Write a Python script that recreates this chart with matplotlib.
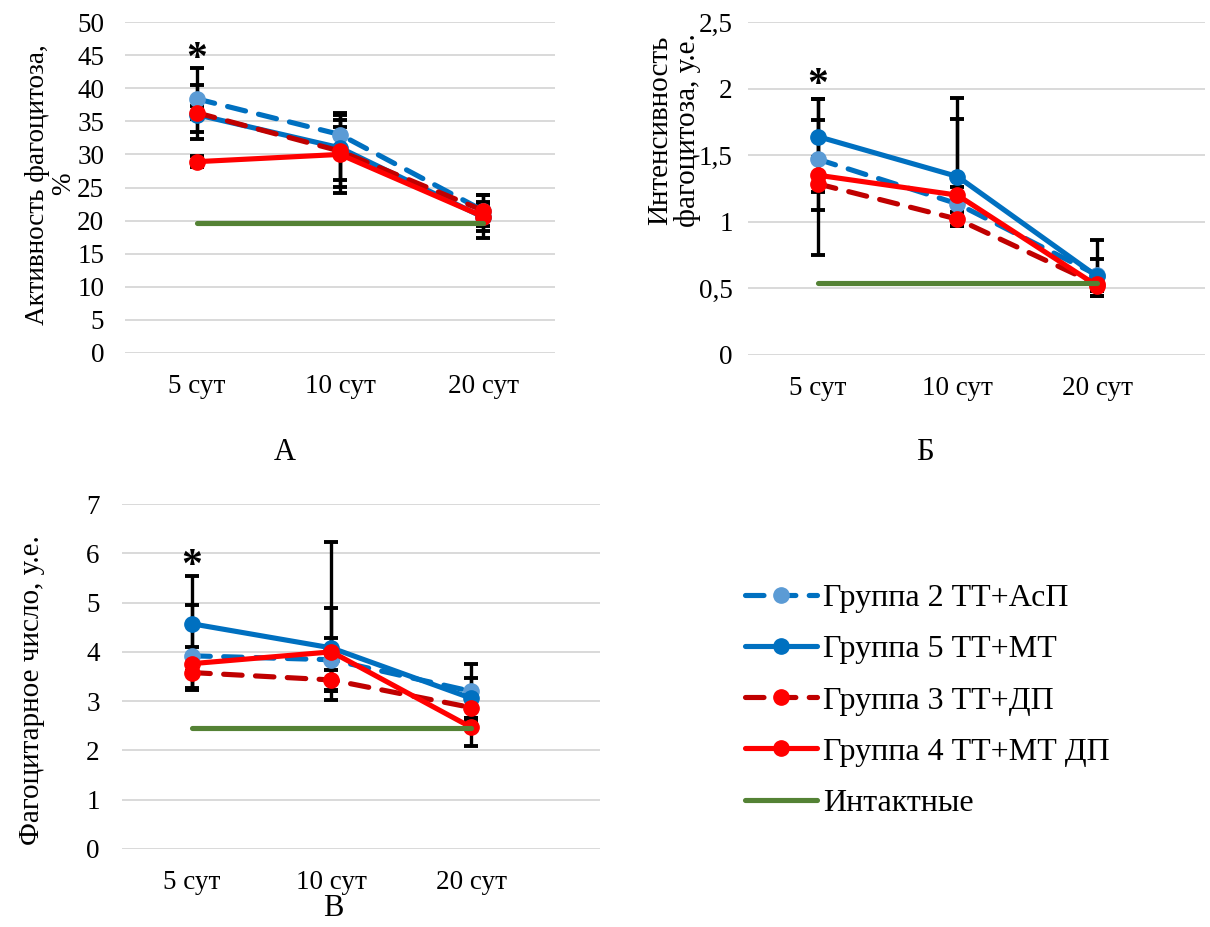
import matplotlib
matplotlib.use("Agg")
import matplotlib.pyplot as plt
from matplotlib.ticker import FuncFormatter

plt.rcParams['font.family'] = ['Liberation Serif', 'DejaVu Serif']

# ---- data -------------------------------------------------------------
days = ["5 сут", "10 сут", "20 сут"]
series_names = ["Группа 2 ТТ+АсП", "Группа 5 ТТ+МТ", "Группа 3 ТТ+ДП",
                "Группа 4 ТТ+МТ ДП", "Интактные"]

# Активность фагоцитоза, %
a_g2 = [38.4, 33.0, 21.5]
a_g5 = [36.0, 31.0, 20.5]
a_g3 = [36.3, 30.5, 21.5]
a_g4 = [28.9, 30.0, 20.6]
a_intact = 19.6
a_g2_hi, a_g2_lo = [4.6, 3.2, 2.3], [5.0, 3.2, 2.3]
a_g5_hi, a_g5_lo = [4.5, 4.2, 2.0], [3.6, 4.9, 2.0]
a_g3_hi, a_g3_lo = [1.0, 3.7, 1.3], [1.0, 5.4, 1.3]
a_g4_hi, a_g4_lo = [0.8, 6.0, 3.2], [0.8, 5.9, 3.3]

# Интенсивность фагоцитоза, у.е.
b_g2 = [1.47, 1.135, 0.60]
b_g5 = [1.64, 1.34, 0.59]
b_g3 = [1.285, 1.02, 0.53]
b_g4 = [1.35, 1.20, 0.52]
b_intact = 0.54
b_g2_hi, b_g2_lo = [0.295, 0.13, 0.12], [0.25, 0.13, 0.12]
b_g5_hi, b_g5_lo = [0.28, 0.59, 0.27], [0.28, 0.37, 0.15]
b_g3_hi, b_g3_lo = [0.20, 0.05, 0.05], [0.20, 0.05, 0.05]
b_g4_hi, b_g4_lo = [0.57, 0.57, 0.08], [0.60, 0.23, 0.08]

# Фагоцитарное число, у.е.
c_g2 = [3.92, 3.84, 3.20]
c_g5 = [4.57, 4.08, 3.06]
c_g3 = [3.58, 3.43, 2.87]
c_g4 = [3.76, 4.00, 2.47]
c_intact = 2.45
c_g2_hi, c_g2_lo = [1.04, 1.05, 0.55], [0.68, 0.64, 0.55]
c_g5_hi, c_g5_lo = [0.96, 2.14, 0.41], [0.96, 1.05, 0.41]
c_g3_hi, c_g3_lo = [0.35, 0.20, 0.30], [0.35, 0.20, 0.30]
c_g4_hi, c_g4_lo = [0.34, 0.28, 0.39], [0.50, 0.80, 0.39]

# ---- styles -----------------------------------------------------------
BLUE = "#0070C0"
LIGHT_BLUE = "#5B9BD5"
DARK_RED = "#C00000"
RED = "#FF0000"
GREEN = "#548235"
GRID = "#D9D9D9"
DASH = (0, (3.6, 2.6))

styles = [
    dict(color=BLUE, ls=DASH, mfc=LIGHT_BLUE, mec=LIGHT_BLUE),
    dict(color=BLUE, ls="-", mfc=BLUE, mec=BLUE),
    dict(color=DARK_RED, ls=DASH, mfc=RED, mec=RED),
    dict(color=RED, ls="-", mfc=RED, mec=RED),
]
LW = 3.7
MS = 11
TICK_FS = 19.5
LEGEND_FS = 23

W, H = 1210, 927
fig = plt.figure(figsize=(W / 100, H / 100), dpi=100)


def px_axes(left, top, right, bottom):
    return fig.add_axes([left / W, 1 - bottom / H, (right - left) / W, (bottom - top) / H])


def panel(ax, groups, his, los, intact, ymax, ystep, fmt, star_y, xmax, ypad):
    x = list(range(len(days)))
    ax.set_xlim(-0.5, xmax)
    ax.set_ylim(0, ymax)
    n = int(round(ymax / ystep))
    ax.set_yticks([i * ystep for i in range(n + 1)])
    ax.yaxis.set_major_formatter(FuncFormatter(fmt))
    ax.set_xticks(x)
    ax.set_xticklabels(days)
    ax.grid(axis="y", color=GRID, lw=1.4)
    ax.set_axisbelow(True)
    for s in ax.spines.values():
        s.set_visible(False)
    ax.tick_params(length=0, labelsize=TICK_FS)
    ax.tick_params(axis="y", pad=ypad)
    ax.tick_params(axis="x", pad=15)

    handles = []
    for vals, hi, lo in zip(groups, his, los):
        ax.errorbar(x, vals, yerr=[lo, hi], fmt="none", ecolor="black",
                    elinewidth=2.4, capsize=4.8, capthick=2.8, zorder=3)
    for vals, st in zip(groups, styles):
        ln, = ax.plot(x, vals, color=st["color"], ls=st["ls"], lw=LW,
                      marker="o", ms=MS, mfc=st["mfc"], mec=st["mec"],
                      dash_capstyle="round", solid_capstyle="round",
                      zorder=4, clip_on=False)
        handles.append(ln)
    ln, = ax.plot(x, [intact] * len(x), color=GREEN, lw=LW,
                  solid_capstyle="round", zorder=4)
    handles.append(ln)
    ax.text(0, star_y, "*", ha="center", va="center", fontsize=30,
            fontweight="bold", zorder=5)
    return handles


def fmt_int(v, _):
    return f"{v:.0f}"


def fmt_comma(v, _):
    return f"{v:g}".replace(".", ",")


# Panel А
axA = px_axes(125, 22, 555, 353)
h = panel(axA, [a_g2, a_g5, a_g3, a_g4], [a_g2_hi, a_g5_hi, a_g3_hi, a_g4_hi],
          [a_g2_lo, a_g5_lo, a_g3_lo, a_g4_lo], a_intact, 50, 5, fmt_int, 44.3,
          2.5, 15)
axA.set_ylabel("Активность фагоцитоза,\n%", fontsize=19.5, linespacing=1.05)
axA.yaxis.set_label_coords((76 - 125) / 430, 0.51)

# Panel Б
axB = px_axes(748, 22, 1205, 355)
panel(axB, [b_g2, b_g5, b_g3, b_g4], [b_g2_hi, b_g5_hi, b_g3_hi, b_g4_hi],
      [b_g2_lo, b_g5_lo, b_g3_lo, b_g4_lo], b_intact, 2.5, 0.5, fmt_comma, 2.02,
      2.5 + 38 / 139.5, 11)
axB.set_ylabel("Интенсивность\nфагоцитоза, у.е.", fontsize=21, linespacing=1.05)
axB.yaxis.set_label_coords((701 - 748) / 457, (355 - 130) / 333)

# Panel В
axC = px_axes(122, 504, 600, 849)
panel(axC, [c_g2, c_g5, c_g3, c_g4], [c_g2_hi, c_g5_hi, c_g3_hi, c_g4_hi],
      [c_g2_lo, c_g5_lo, c_g3_lo, c_g4_lo], c_intact, 7, 1, fmt_int, 5.72,
      2.5 + 59 / 139.5, 16)
axC.set_ylabel("Фагоцитарное число, у.е.", fontsize=21)
axC.yaxis.set_label_coords((45 - 122) / 478, (849 - 690) / 345)

# Panel letters
fig.text(285 / W, 1 - 452 / H, "А", ha="center", va="center", fontsize=22)
fig.text(925 / W, 1 - 452 / H, "Б", ha="center", va="center", fontsize=22)
fig.text(333 / W, 1 - 908 / H, "В", ha="center", va="center", fontsize=22)

# Legend
fig.legend(h, series_names, loc="upper left",
           bbox_to_anchor=(745 / W, 1 - 584 / H), frameon=False,
           fontsize=LEGEND_FS, handlelength=2.25, handletextpad=0.2,
           labelspacing=0.68, borderpad=0, borderaxespad=0)

fig.savefig("out.png", dpi=100)
